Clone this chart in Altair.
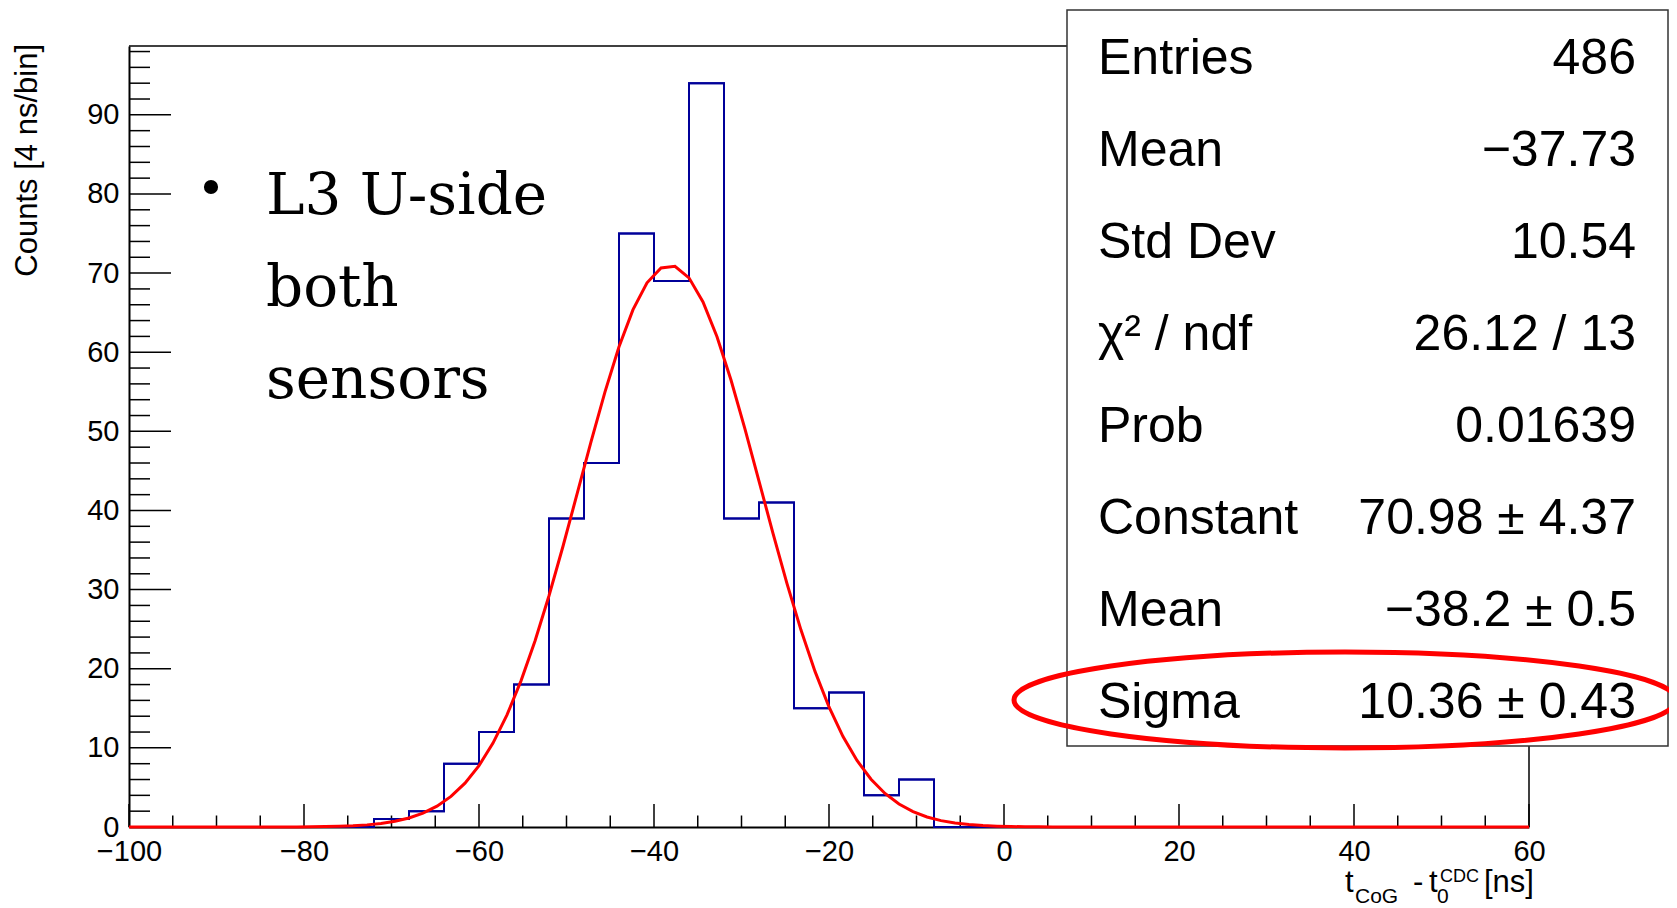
import altair as alt
import pandas as pd

# ---------------- data ----------------
BIN_LO = list(range(-100, 60, 4))          # 40 bins of 4 ns, -100 .. 60
COUNTS = [0, 0, 0, 0, 0, 0, 0,
          1, 2, 8, 12, 18, 39, 46, 75, 69, 94, 39, 41, 15, 17, 4, 6,
          0, 0, 0, 0, 0, 0, 0, 0, 0, 0, 0, 0, 0, 0, 0, 0, 0]
X_RANGE = [-100, 60]
Y_MAX = 98.7

FIT_CONST = 70.98
FIT_MEAN = -38.2
FIT_SIGMA = 10.36

X_MAJOR = [-100, -80, -60, -40, -20, 0, 20, 40, 60]
X_MINOR = [v for v in range(-100, 61, 5) if v % 20 != 0]
Y_MAJOR = [0, 10, 20, 30, 40, 50, 60, 70, 80, 90]
Y_MINOR = [v for v in range(0, 99, 2) if v % 10 != 0]

STAT_NAMES = ["Entries", "Mean", "Std Dev", "\u03c7\u00b2 / ndf", "Prob",
              "Constant", "Mean", "Sigma"]
STAT_VALUES = ["486", "\u221237.73", "10.54", "26.12 / 13", "0.01639",
               "70.98 \u00b1 4.37", "\u221238.2 \u00b1 0.5", "10.36 \u00b1 0.43"]

NOTE_LINES = ["L3 U-side", "both", "sensors"]
Y_TITLE = "Counts [4 ns/bin]"

# ---------------- layout ----------------
W, H = 1400, 781
SANS = "Liberation Sans"
SERIF = "DejaVu Serif"

xscale = alt.Scale(domain=X_RANGE, nice=False, zero=False)
yscale = alt.Scale(domain=[0, Y_MAX], nice=False, zero=False)

xaxis = alt.Axis(values=X_MAJOR, title=None, ticks=False, tickSize=0, grid=False,
                 labelFont=SANS, labelFontSize=29, labelColor="black",
                 labelPadding=10, labelFlush=False, labelOverlap=False,
                 domainColor="black", domainWidth=2, format="d")
yaxis = alt.Axis(values=Y_MAJOR, title=None, ticks=False, tickSize=0, grid=False,
                 labelFont=SANS, labelFontSize=29, labelColor="black",
                 labelPadding=10, labelFlush=False, labelOverlap=False,
                 domainColor="black", domainWidth=2, format="d")

one = pd.DataFrame({"k": [0]})

layers = []

# frame (top and right)
layers.append(alt.Chart(one).mark_rule(color="black", strokeWidth=1.5).encode(
    x=alt.value(0), x2=alt.value(W), y=alt.value(0)))
layers.append(alt.Chart(one).mark_rule(color="black", strokeWidth=1.5).encode(
    x=alt.value(W), y=alt.value(0), y2=alt.value(H)))

# histogram outline (carries the axes)
hist_df = pd.DataFrame({"x": BIN_LO + [X_RANGE[1]], "y": COUNTS + [COUNTS[-1]]})
layers.append(alt.Chart(hist_df).mark_line(interpolate="step-after", color="#000099",
                                           strokeWidth=2).encode(
    x=alt.X("x:Q", scale=xscale, axis=xaxis),
    y=alt.Y("y:Q", scale=yscale, axis=yaxis)))

# inside ticks
layers.append(alt.Chart(pd.DataFrame({"x": X_MAJOR})).mark_rule(color="black", strokeWidth=1.5).encode(
    x=alt.X("x:Q", scale=xscale, axis=xaxis), y=alt.value(H), y2=alt.value(H - 23)))
layers.append(alt.Chart(pd.DataFrame({"x": X_MINOR})).mark_rule(color="black", strokeWidth=1.5).encode(
    x=alt.X("x:Q", scale=xscale, axis=xaxis), y=alt.value(H), y2=alt.value(H - 11.5)))
layers.append(alt.Chart(pd.DataFrame({"y": Y_MAJOR})).mark_rule(color="black", strokeWidth=1.5).encode(
    y=alt.Y("y:Q", scale=yscale, axis=yaxis), x=alt.value(0), x2=alt.value(42)))
layers.append(alt.Chart(pd.DataFrame({"y": Y_MINOR})).mark_rule(color="black", strokeWidth=1.5).encode(
    y=alt.Y("y:Q", scale=yscale, axis=yaxis), x=alt.value(0), x2=alt.value(21)))

# redraw histogram above ticks
layers.append(alt.Chart(hist_df).mark_line(interpolate="step-after", color="#000099",
                                           strokeWidth=2).encode(
    x=alt.X("x:Q", scale=xscale, axis=xaxis),
    y=alt.Y("y:Q", scale=yscale, axis=yaxis)))

# gaussian fit
fit = alt.Chart(alt.sequence(X_RANGE[0], X_RANGE[1] + 0.001, 1.6, as_="x")).transform_calculate(
    y=f"{FIT_CONST}*exp(-0.5*pow((datum.x-({FIT_MEAN}))/{FIT_SIGMA},2))"
).mark_line(color="#ff0000", strokeWidth=3).encode(
    x=alt.X("x:Q", scale=xscale, axis=xaxis),
    y=alt.Y("y:Q", scale=yscale, axis=yaxis))
layers.append(fit)

# y-axis title
layers.append(alt.Chart(pd.DataFrame({"t": [Y_TITLE]})).mark_text(
    font=SANS, fontSize=31, angle=270, align="right", baseline="middle", color="black").encode(
    text="t:N", x=alt.value(-101), y=alt.value(-2)))

# x-axis title pieces
xt = [("t", 1216, 846, 31), ("CoG", 1226, 857, 21), ("-", 1284, 846, 31),
      ("t", 1300, 846, 31), ("0", 1308, 857, 21), ("CDC", 1311, 836, 18),
      ("[ns]", 1355, 846, 31)]
for s, px, py, fs in xt:
    layers.append(alt.Chart(pd.DataFrame({"t": [s]})).mark_text(
        font=SANS, fontSize=fs, align="left", baseline="alphabetic", color="black").encode(
        text="t:N", x=alt.value(px), y=alt.value(py)))

# bullet note
layers.append(alt.Chart(one).mark_circle(size=200, color="black", opacity=1).encode(
    x=alt.value(82), y=alt.value(141)))
for i, line in enumerate(NOTE_LINES):
    layers.append(alt.Chart(pd.DataFrame({"t": [line]})).mark_text(
        font=SERIF, fontSize=58, align="left", baseline="alphabetic", color="black").encode(
        text="t:N", x=alt.value(137), y=alt.value(168 + 92 * i)))

# stats box
layers.append(alt.Chart(one).mark_rect(fill="white", stroke="#333333", strokeWidth=1.5).encode(
    x=alt.value(938), x2=alt.value(1539), y=alt.value(-36), y2=alt.value(700)))
for i, (nm, val) in enumerate(zip(STAT_NAMES, STAT_VALUES)):
    py = 28 + 92 * i
    layers.append(alt.Chart(pd.DataFrame({"t": [nm]})).mark_text(
        font=SANS, fontSize=50, align="left", baseline="alphabetic", color="black").encode(
        text="t:N", x=alt.value(969), y=alt.value(py)))
    layers.append(alt.Chart(pd.DataFrame({"t": [val]})).mark_text(
        font=SANS, fontSize=50, align="right", baseline="alphabetic", color="black").encode(
        text="t:N", x=alt.value(1507), y=alt.value(py)))

# red highlight ellipse around Sigma
ELLIPSE_PATH = "M -1 0 A 1 0.145 0 1 1 1 0 A 1 0.145 0 1 1 -1 0 Z"
layers.append(alt.Chart(one).mark_point(shape=ELLIPSE_PATH, size=662 ** 2, filled=False,
                                        stroke="#ff0000", strokeWidth=5, opacity=1).encode(
    x=alt.value(1216), y=alt.value(654)))

chart = alt.layer(*layers).properties(
    width=W, height=H,
    autosize=alt.AutoSizeParams(type="none"),
    padding={"left": 121, "top": 38, "right": 140, "bottom": 80},
    background="white",
).configure_view(strokeWidth=0)

chart.save("out.html", embed_options={"renderer": "svg", "actions": False})
